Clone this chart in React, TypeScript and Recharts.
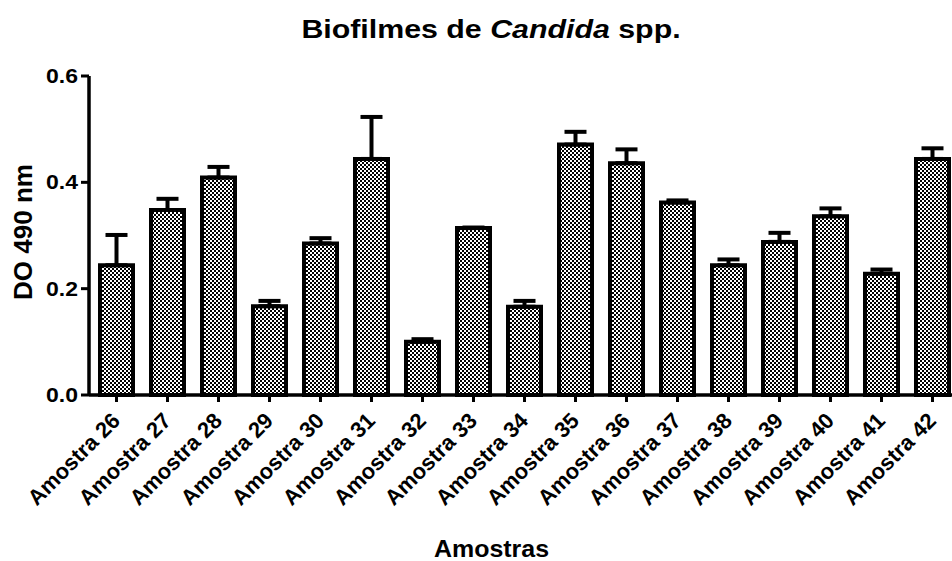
import React from 'react';
import { BarChart, Bar, XAxis, YAxis, ErrorBar } from 'recharts';

const categories = [
  'Amostra 26', 'Amostra 27', 'Amostra 28', 'Amostra 29', 'Amostra 30', 'Amostra 31',
  'Amostra 32', 'Amostra 33', 'Amostra 34', 'Amostra 35', 'Amostra 36', 'Amostra 37',
  'Amostra 38', 'Amostra 39', 'Amostra 40', 'Amostra 41', 'Amostra 42',
];
const means = [0.244, 0.348, 0.409, 0.167, 0.285, 0.444, 0.1, 0.314, 0.166, 0.471, 0.436, 0.362, 0.244, 0.288, 0.336, 0.228, 0.444];
const errors = [0.057, 0.021, 0.02, 0.01, 0.01, 0.079, 0.005, 0.001, 0.011, 0.024, 0.026, 0.004, 0.011, 0.017, 0.015, 0.008, 0.02];
const yTicks = [0, 0.2, 0.4, 0.6];

const title = 'Biofilmes de ';
const titleItalic = 'Candida';
const titleEnd = ' spp.';
const yLabel = 'DO 490 nm';
const xLabel = 'Amostras';

const data = categories.map((name, i) => ({ name, mean: means[i], err: [0, errors[i]] }));

const FONT = '"Liberation Sans", Arial, Helvetica, sans-serif';

const XTick = (props: any) => {
  const { x, y, payload } = props;
  const ax = x + 5;
  const ay = y + 18;
  return (
    <text
      x={ax}
      y={ay}
      textAnchor="end"
      transform={`rotate(-45 ${ax} ${ay})`}
      fontFamily={FONT}
      fontWeight="bold"
      fontSize={22}
      fill="#000"
    >
      {payload.value}
    </text>
  );
};

const YTick = (props: any) => {
  const { x, y, payload } = props;
  return (
    <g transform={`translate(${x + 1} ${y}) scale(1.15 1)`}>
      <text x={0} y={0} dy="0.355em" textAnchor="end" fontFamily={FONT} fontWeight="bold" fontSize={20} fill="#000">
        {Number(payload.value).toFixed(1)}
      </text>
    </g>
  );
};

export default function App() {
  return (
    <div style={{ position: 'fixed', left: 0, top: 0, width: 952, height: 561, overflow: 'hidden', background: '#fff' }}>
      <svg width={0} height={0} style={{ position: 'absolute' }}>
        <defs>
          <pattern id="checker" patternUnits="userSpaceOnUse" width={4} height={4}>
            <rect x={0} y={0} width={4} height={4} fill="#fff" />
            <rect x={0} y={0} width={2} height={2} fill="#000" />
            <rect x={2} y={2} width={2} height={2} fill="#000" />
          </pattern>
        </defs>
      </svg>
      <BarChart
        width={970}
        height={561}
        data={data}
        margin={{ top: 76, right: 12, bottom: 46, left: 0 }}
        barSize={33}
      >
        <XAxis
          dataKey="name"
          interval={0}
          height={120}
          padding={{ left: 2, right: 0 }}
          tick={<XTick />}
          tickSize={7}
          axisLine={{ stroke: '#000', strokeWidth: 3.5 }}
          tickLine={{ stroke: '#000', strokeWidth: 3 }}
        />
        <YAxis
          type="number"
          domain={[0, 0.6]}
          ticks={yTicks}
          width={89}
          tickSize={8}
          tickMargin={4}
          tick={<YTick />}
          axisLine={{ stroke: '#000', strokeWidth: 3.5 }}
          tickLine={{ stroke: '#000', strokeWidth: 3 }}
        />
        <Bar dataKey="mean" fill="url(#checker)" stroke="#000" strokeWidth={4} isAnimationActive={false}>
          <ErrorBar dataKey="err" direction="y" width={11} stroke="#000" strokeWidth={4} />
        </Bar>
      </BarChart>
      <svg width={952} height={561} style={{ position: 'absolute', left: 0, top: 0, pointerEvents: 'none' }}>
        <g transform="translate(491 38.3) scale(1.19 1)">
          <text x={0} y={0} textAnchor="middle" fontFamily={FONT} fontWeight="bold" fontSize={25.5} fill="#000">
            {title}
            <tspan fontStyle="italic">{titleItalic}</tspan>
            {titleEnd}
          </text>
        </g>
        <text
          x={31.5}
          y={232}
          textAnchor="middle"
          transform="rotate(-90 31.5 232)"
          fontFamily={FONT}
          fontWeight="bold"
          fontSize={26}
          fill="#000"
        >
          {yLabel}
        </text>
        <g transform="translate(491.5 556.5) scale(1.04 1)">
          <text x={0} y={0} textAnchor="middle" fontFamily={FONT} fontWeight="bold" fontSize={24} fill="#000">
            {xLabel}
          </text>
        </g>
      </svg>
    </div>
  );
}
